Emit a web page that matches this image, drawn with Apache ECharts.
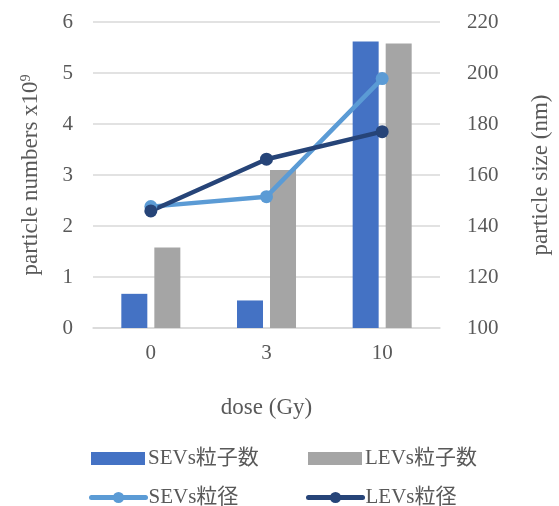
<!DOCTYPE html>
<html>
<head>
<meta charset="utf-8">
<script src="https://cdn.jsdelivr.net/npm/echarts@6/dist/echarts.min.js"></script>
<style>
  html, body { margin: 0; padding: 0; background: #ffffff; }
  #chart { width: 559px; height: 506px; }
</style>
</head>
<body>
<div id="chart"></div>
<script>
const doses = ['0', '3', '10'];
const sevCounts = [0.67, 0.54, 5.62];
const levCounts = [1.58, 3.1, 5.58];
const sevSizes = [147.6, 151.5, 197.8];
const levSizes = [145.9, 166.2, 177.0];

const FONT = '"Liberation Serif", "DejaVu Serif", "Noto Sans CJK JP", serif';
const TEXT = '#595959';
const C = {
  sevBar: '#4472C4',
  levBar: '#A5A5A5',
  sevLine: '#5B9BD5',
  levLine: '#264478',
  grid: '#D9D9D9'
};

const chart = echarts.init(document.getElementById('chart'), null, { renderer: 'canvas' });

function legendAt(name, left, top, icon) {
  return {
    data: [name],
    left, top,
    icon,
    itemWidth: 54,
    itemHeight: icon ? 13 : 14,
    itemGap: 0,
    lineStyle: { width: 5, cap: 'round' },
    textStyle: { fontFamily: FONT, fontSize: 21, color: TEXT, padding: [0, 0, 0, -2] }
  };
}

chart.setOption({
  animation: false,
  textStyle: { fontFamily: FONT },
  grid: { left: 93, right: 119, top: 22, bottom: 178, outerBoundsMode: 'none', containLabel: false },
  legend: [
    legendAt('SEVs粒子数', 86, 443, 'rect'),
    legendAt('LEVs粒子数', 303, 443, 'rect'),
    legendAt('SEVs粒径', 84, 482),
    legendAt('LEVs粒径', 301, 482)
  ],
  xAxis: {
    type: 'category',
    data: doses,
    axisLine: { lineStyle: { color: C.grid, width: 1.5 } },
    axisTick: { show: false },
    axisLabel: { fontFamily: FONT, fontSize: 21, color: TEXT, margin: 15 },
    name: 'dose (Gy)',
    nameLocation: 'middle',
    nameGap: 68,
    nameTextStyle: { fontFamily: FONT, fontSize: 23, color: TEXT }
  },
  yAxis: [
    {
      type: 'value',
      min: 0, max: 6, interval: 1,
      axisLine: { show: false },
      axisTick: { show: false },
      splitLine: { lineStyle: { color: C.grid, width: 1.5 } },
      axisLabel: { fontFamily: FONT, fontSize: 21, color: TEXT, margin: 20 },
      name: 'particle numbers x10{sup|9}',
      nameLocation: 'middle',
      nameGap: 50,
      nameRotate: 90,
      nameTextStyle: {
        fontFamily: FONT, fontSize: 23, color: TEXT,
        rich: { sup: { fontFamily: FONT, fontSize: 14, color: TEXT, verticalAlign: 'top', padding: [0, 0, 10, 0] } }
      }
    },
    {
      type: 'value',
      min: 100, max: 220, interval: 20,
      axisLine: { show: false },
      axisTick: { show: false },
      splitLine: { show: false },
      axisLabel: { fontFamily: FONT, fontSize: 21, color: TEXT, margin: 27 },
      name: 'particle size (nm)',
      nameLocation: 'middle',
      nameGap: 89,
      nameRotate: 90,
      nameTextStyle: { fontFamily: FONT, fontSize: 23, color: TEXT }
    }
  ],
  series: [
    {
      name: 'SEVs粒子数', type: 'bar', data: sevCounts, yAxisIndex: 0,
      barWidth: 26, barGap: '27%',
      itemStyle: { color: C.sevBar }
    },
    {
      name: 'LEVs粒子数', type: 'bar', data: levCounts, yAxisIndex: 0,
      barWidth: 26, barGap: '27%',
      itemStyle: { color: C.levBar }
    },
    {
      name: 'SEVs粒径', type: 'line', data: sevSizes, yAxisIndex: 1,
      symbol: 'circle', symbolSize: 13,
      lineStyle: { color: C.sevLine, width: 4.5 },
      itemStyle: { color: C.sevLine }
    },
    {
      name: 'LEVs粒径', type: 'line', data: levSizes, yAxisIndex: 1,
      symbol: 'circle', symbolSize: 13,
      lineStyle: { color: C.levLine, width: 4.5 },
      itemStyle: { color: C.levLine }
    }
  ]
});
</script>
</body>
</html>
